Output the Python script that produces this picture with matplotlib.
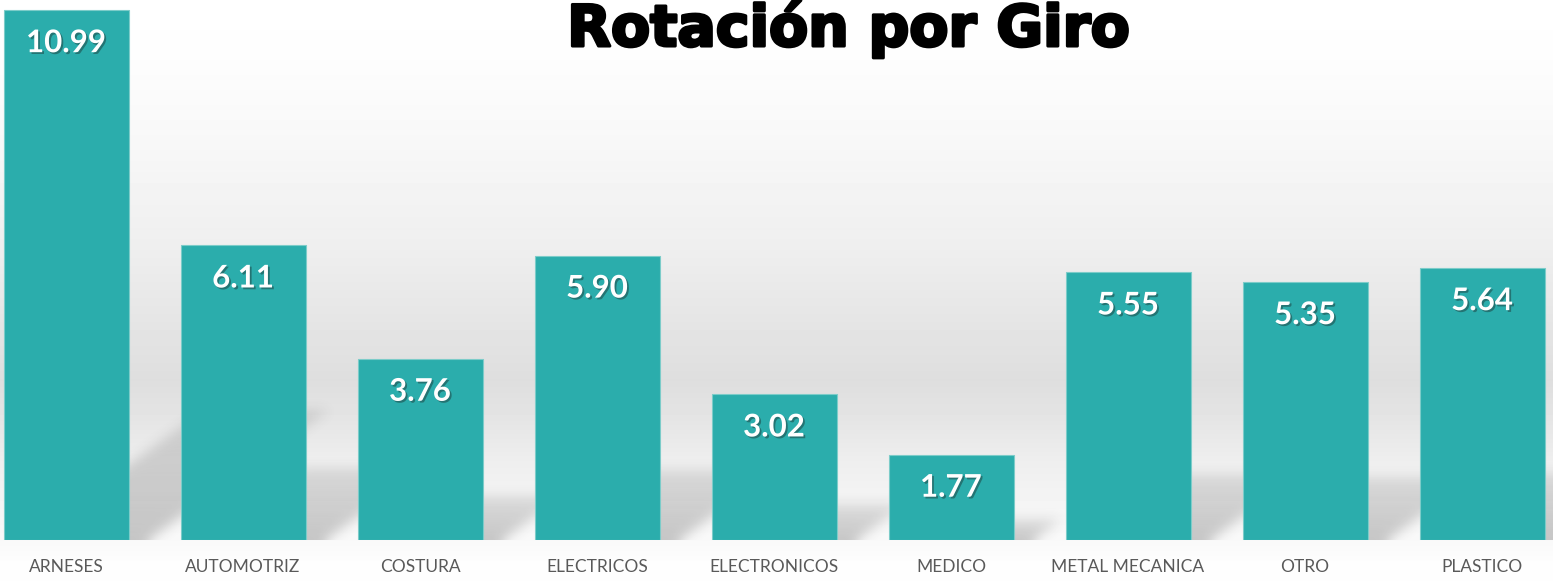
import numpy as np
import matplotlib.pyplot as plt
from matplotlib import patheffects as pe

# datos
categorias = ['ARNESES', 'AUTOMOTRIZ', 'COSTURA', 'ELECTRICOS', 'ELECTRONICOS',
              'MEDICO', 'METAL MECANICA', 'OTRO', 'PLASTICO']
valores = [10.99, 6.11, 3.76, 5.90, 3.02, 1.77, 5.55, 5.35, 5.64]

color_barra = '#2BADAC'
ancho = 0.706
xlim = (-0.373, 8.401)
ylim = (0, 11.2)

fig = plt.figure(figsize=(15.53, 5.81), dpi=100)

# fondo degradado
bg = fig.add_axes([0, 0, 1, 1], zorder=-1)
stops_y = [0, 60, 150, 250, 330, 380, 420, 460, 500, 540, 560, 581]
stops_v = [255, 253, 247, 238, 228, 222, 229, 238, 244, 249, 253, 254]
filas = np.interp(np.arange(581), stops_y, stops_v)
fondo = np.repeat(filas[:, None], 1553, axis=1)
bg.imshow(fondo, cmap='gray', vmin=0, vmax=255, aspect='auto',
          extent=(0, 1, 0, 1), interpolation='nearest')
bg.axis('off')

ax = fig.add_axes([0, 41 / 581, 1, 540 / 581])
ax.patch.set_alpha(0)
ax.set_xlim(*xlim)
ax.set_ylim(*ylim)

# sombras en perspectiva
W, Hp = 1553, 540
xs = xlim[0] + (np.arange(W) + 0.5) / W * (xlim[1] - xlim[0])
ys = ylim[1] - (np.arange(Hp) + 0.5) / Hp * (ylim[1] - ylim[0])
X, Y = np.meshgrid(xs, ys)
k = 0.245
shear = 1.39 * (540 / 11.2) / 177.0
off = 20 / 177.0
alpha = np.zeros_like(X)
for i, v in enumerate(valores):
    hs = k * v
    izq = i - ancho / 2 + off + shear * Y
    m = (Y >= 0) & (Y <= hs) & (X >= izq) & (X <= izq + ancho)
    a = np.where(m, 0.26 * (1 - 0.5 * Y / hs), 0)
    alpha = np.maximum(alpha, a)

sig = 6
kx = np.arange(-3 * sig, 3 * sig + 1)
ker = np.exp(-kx ** 2 / (2 * sig ** 2))
ker /= ker.sum()
p = 3 * sig
al = np.pad(alpha, p, mode='edge')
al = np.apply_along_axis(lambda r: np.convolve(r, ker, mode='same'), 1, al)
al = np.apply_along_axis(lambda c: np.convolve(c, ker, mode='same'), 0, al)
alpha = al[p:-p, p:-p]

img = np.zeros((Hp, W, 4))
img[..., :3] = 0.2
img[..., 3] = alpha
ax.imshow(img, extent=(xlim[0], xlim[1], ylim[0], ylim[1]), aspect='auto',
          zorder=1, interpolation='nearest')

x = np.arange(len(categorias))
ax.bar(x, valores, width=ancho, color=color_barra, edgecolor='#7cccc9',
       linewidth=0.8, zorder=3)

for i, v in enumerate(valores):
    ax.annotate(f'{v:.2f}', xy=(i, v), xytext=(0, -23.8), textcoords='offset points',
                ha='center', va='center', color='white', fontsize=22.5,
                fontweight='bold', family=['Lato', 'DejaVu Sans'], zorder=4,
                path_effects=[pe.SimplePatchShadow(offset=(1.3, -1.3),
                                                   shadow_rgbFace='#1f4f4e', alpha=0.6),
                              pe.Normal()])

ax.set_xticks(x)
ax.set_xticklabels(categorias, fontsize=12.5, color='#595959',
                   family=['Lato', 'DejaVu Sans'])
ax.tick_params(axis='x', length=0, pad=14)
ax.set_yticks([])
for s in ax.spines.values():
    s.set_visible(False)

fig.text(849 / 1553, 1 - 46 / 581, 'Rotación por Giro', ha='center', va='baseline',
         fontsize=41, fontweight='bold', family=['DejaVu Sans'],
         color='black',
         path_effects=[pe.withStroke(linewidth=2.2, foreground='black')])

fig.savefig('out.png', dpi=100)
